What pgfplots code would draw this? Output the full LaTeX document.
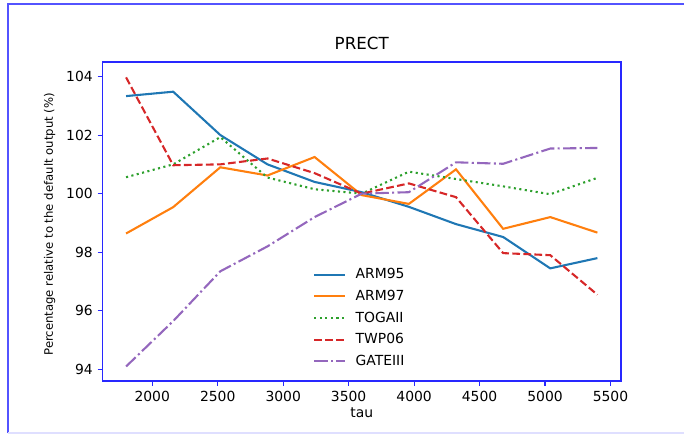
\documentclass[border=0pt]{standalone}
\usepackage{pgfplots}
\pgfplotsset{compat=1.18}
\usepackage{fontspec}
\setmainfont{DejaVu Sans}
\definecolor{c1}{HTML}{1F77B4}
\definecolor{c2}{HTML}{FF7F0E}
\definecolor{c3}{HTML}{2CA02C}
\definecolor{c4}{HTML}{D62728}
\definecolor{c5}{HTML}{9467BD}
\definecolor{spine}{RGB}{40,40,255}
\begin{document}
\begin{tikzpicture}
\useasboundingbox (0,0) rectangle (492.48pt,313.2pt);
\draw[spine!80,line width=0.8pt] (5.76pt,1.44pt) -- (5.76pt,310.32pt) -- (492.48pt,310.32pt);
\draw[spine!15,line width=0.8pt] (5.76pt,1.44pt) -- (492.48pt,1.44pt);
\begin{axis}[
  at={(73.8pt,38.88pt)}, anchor=south west,
  scale only axis, width=373.3pt, height=229.7pt,
  xmin=1620, xmax=5580, ymin=93.605, ymax=104.495,
  xtick={2000,2500,...,5500}, ytick={94,96,...,104},
  axis line style={spine, line width=0.8pt},
  tick style={spine, line width=0.8pt},
  tick align=outside, major tick length=3.5pt,
  xtick pos=bottom, ytick pos=left,
  /pgf/number format/assume math mode=true,
  /pgf/number format/set thousands separator={},
  tick label style={font=\fontsize{10}{12}\selectfont, black},
  xlabel={tau}, ylabel={Percentage relative to the default output (\%)},
  xlabel style={font=\fontsize{10}{12}\selectfont, yshift=2pt},
  ylabel style={font=\fontsize{8.4}{10}\selectfont, yshift=1pt, xshift=-2pt},
  title={PRECT}, title style={font=\fontsize{12}{14}\selectfont, yshift=-1pt},
  legend style={draw=none, fill=none, at={(0.398,0.369)}, anchor=north west,
    font=\fontsize{10}{12}\selectfont, row sep=3.7pt,
    nodes={inner sep=1.5pt}},
  legend cell align=left,
  legend image code/.code={\draw[#1] (0pt,0pt) -- (22pt,0pt);},
  every axis plot/.append style={line width=1.5pt, line cap=butt},
]
\addplot[c1] coordinates {(1800,103.33) (2160,103.48) (2520,102.0) (2880,101.0) (3240,100.4) (3600,100.05) (3960,99.55) (4320,98.96) (4680,98.52) (5040,97.45) (5400,97.8)};
\addlegendentry{\hspace{5.5pt}ARM95}
\addplot[c2] coordinates {(1800,98.64) (2160,99.54) (2520,100.9) (2880,100.62) (3240,101.25) (3600,99.95) (3960,99.65) (4320,100.83) (4680,98.8) (5040,99.2) (5400,98.67)};
\addlegendentry{\hspace{5.5pt}ARM97}
\addplot[c3, dash pattern=on 1.5pt off 2.475pt] coordinates {(1800,100.56) (2160,101.0) (2520,101.93) (2880,100.55) (3240,100.15) (3600,100.0) (3960,100.75) (4320,100.5) (4680,100.25) (5040,99.98) (5400,100.54)};
\addlegendentry{\hspace{5.5pt}TOGAII}
\addplot[c4, dash pattern=on 5.55pt off 2.4pt] coordinates {(1800,103.97) (2160,100.97) (2520,101.0) (2880,101.2) (3240,100.7) (3600,100.0) (3960,100.35) (4320,99.88) (4680,97.97) (5040,97.9) (5400,96.55)};
\addlegendentry{\hspace{5.5pt}TWP06}
\addplot[c5, dash pattern=on 9.6pt off 2.4pt on 1.5pt off 2.4pt] coordinates {(1800,94.1) (2160,95.65) (2520,97.35) (2880,98.2) (3240,99.2) (3600,100.0) (3960,100.05) (4320,101.07) (4680,101.02) (5040,101.54) (5400,101.56)};
\addlegendentry{\hspace{5.5pt}GATEIII}
\end{axis}
\end{tikzpicture}
\end{document}
